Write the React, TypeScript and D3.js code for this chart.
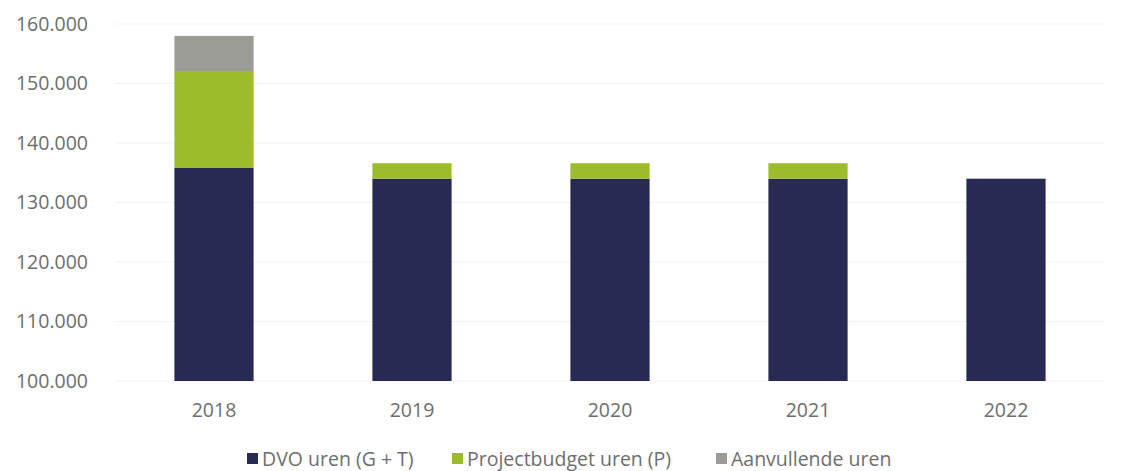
import React from "react";
import * as d3 from "d3";

const years = ["2018", "2019", "2020", "2021", "2022"];
const dvoUren = [135800, 134000, 134000, 134000, 134000];
const projectUren = [16300, 2600, 2600, 2600, 0];
const aanvullendeUren = [5900, 0, 0, 0, 0];
const yTicks = [100000, 110000, 120000, 130000, 140000, 150000, 160000];
const seriesNames = ["DVO uren (G + T)", "Projectbudget uren (P)", "Aanvullende uren"];
const seriesColors = ["#272a52", "#9cbc2b", "#9b9c95"];

const W = 1128;
const H = 471;
const margin = { left: 115, right: 23, top: 24, bottom: 90 };
const yMin = 100000;

export default function App() {
  const x = d3
    .scaleBand<string>()
    .domain(years)
    .range([margin.left, W - margin.right])
    .paddingInner(0.6)
    .paddingOuter(0.3);
  const y = d3.scaleLinear().domain([yMin, 160000]).range([H - margin.bottom, margin.top]);

  const rows = years.map((yr, i) => ({
    year: yr,
    dvo: dvoUren[i],
    proj: projectUren[i],
    aanv: aanvullendeUren[i],
  }));
  const stack = d3.stack<any>().keys(["dvo", "proj", "aanv"])(rows);
  const fmt = (v: number) => d3.format(",")(v).replace(/,/g, ".");
  const font = "'Open Sans', sans-serif";
  const textColor = "#6e6e6e";
  const fs = 19.5;

  const legendX = [247, 452, 716];

  return (
    <svg width={W} height={H} style={{ position: "absolute", left: 0, top: 0, background: "#fff" }}>
      {yTicks.map((t) => (
        <line key={"g" + t} x1={margin.left} x2={W - margin.right} y1={y(t)} y2={y(t)} stroke="#f3f4ee" strokeWidth={1} />
      ))}
      {yTicks.map((t) => (
        <text key={"t" + t} x={88} y={y(t)} dy="0.35em" textAnchor="end" fontFamily={font} fontSize={fs} fill={textColor}>
          {fmt(t)}
        </text>
      ))}
      {stack.map((s, si) =>
        s.map((d, i) => {
          const lo = Math.max(d[0], yMin);
          const hi = d[1];
          return hi - lo > 0 ? (
            <rect
              key={si + "-" + i}
              x={x(years[i])}
              width={x.bandwidth()}
              y={y(hi)}
              height={y(lo) - y(hi)}
              fill={seriesColors[si]}
            />
          ) : null;
        })
      )}
      {years.map((yr) => (
        <text key={"x" + yr} x={(x(yr) as number) + x.bandwidth() / 2} y={417} textAnchor="middle" fontFamily={font} fontSize={fs} fill={textColor}>
          {yr}
        </text>
      ))}
      {seriesNames.map((n, i) => (
        <g key={n}>
          <rect x={legendX[i]} y={453} width={11} height={11} fill={seriesColors[i]} />
          <text x={legendX[i] + 15} y={466} fontFamily={font} fontSize={fs} fill={textColor}>
            {n}
          </text>
        </g>
      ))}
    </svg>
  );
}
